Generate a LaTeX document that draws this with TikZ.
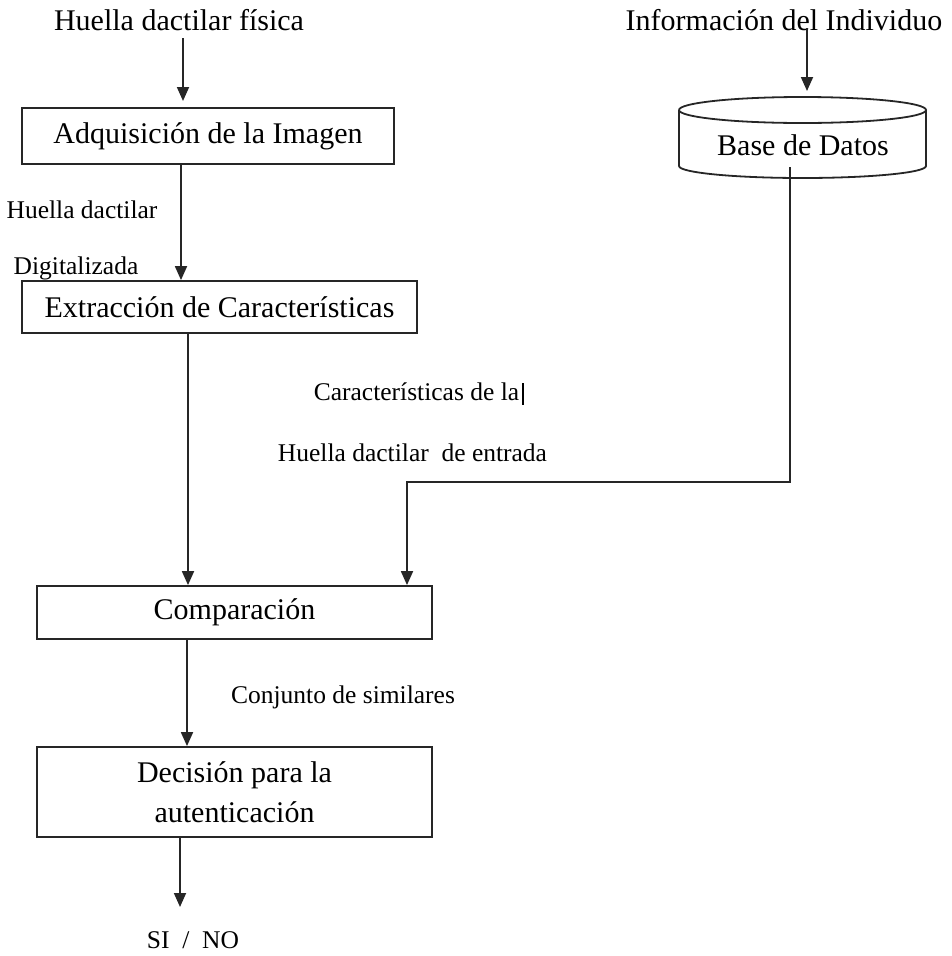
\documentclass[tikz,border=0pt]{standalone}
\usepackage{fontspec}
\setmainfont{Liberation Serif}
\usetikzlibrary{arrows.meta}
\begin{document}
\begin{tikzpicture}[x=1pt,y=-1pt,
  line width=1.8pt, draw={black!85},
  big/.style={font=\fontsize{30}{40}\selectfont, inner sep=0pt},
  small/.style={font=\fontsize{25.5}{30}\selectfont, inner sep=0pt},
  procbox/.style={draw, rectangle, inner sep=0pt, font=\fontsize{30}{40}\selectfont, align=center},
  arr/.style={-{Triangle[width=12pt,length=14pt]}},
  conn/.style={line width=1.8pt}
]
\useasboundingbox (0,0) rectangle (951,956);

% labels at top
\node[big] (fis) at (179,20) {Huella dactilar física};
\node[big] (info) at (784,20) {Información del Individuo};

% process boxes
\node[procbox, minimum width=372pt, minimum height=56pt] (adq) at (208,136) {Adquisición de la Imagen};
\node[procbox, minimum width=395pt, minimum height=52pt] (ext) at (219.5,307) {Extracción de Características};
\node[procbox, minimum width=395pt, minimum height=53pt] (comp) at (234.5,612.5) {Comparación};
\node[procbox, minimum width=395pt, minimum height=90pt] (dec) at (234.5,792) {Decisión para la\\autenticación};

% database cylinder
\coordinate (dbl) at (679,110);
\coordinate (dbr) at (926,110);
\draw (679,110) arc[start angle=180, end angle=540, x radius=123.5pt, y radius=13pt];
\draw (679,110) -- (679,166) arc[start angle=180, end angle=360, x radius=123.5pt, y radius=12pt] -- (926,110);
\node[big] (db) at (803,145) {Base de Datos};

% small labels
\node[small] (hd) at (82,210) {Huella dactilar};
\node[small] (dig) at (76,268) {Digitalizada};
\node[small] (car) at (416.5,392) {Características de la};
\draw[line width=2pt, black] (523,383) -- (523,405);
\node[small] (hde) at (412.5,453) {Huella dactilar \ de entrada};
\node[small] (conj) at (343,697) {Conjunto de similares};
\node[small] (sino) at (193,940) {SI \ / \ NO};

% connector columns
\coordinate (c1) at (183,0);
\coordinate (c2) at (181,0);
\coordinate (c3) at (188,0);
\coordinate (c4) at (407,0);
\coordinate (c5) at (187,0);
\coordinate (c6) at (180,0);
\coordinate (c7) at (807,0);
\coordinate (c8) at (790,0);

\coordinate (fisend) at (183,38);
\coordinate (infostart) at (807,28);
\coordinate (infoend) at (807,91);
\coordinate (dbstart) at (790,167);
\coordinate (bend) at (790,482);
\coordinate (bend2) at (407,482);
\coordinate (outend) at (180,907);
\coordinate (fistip) at (183,101);

% connectors
\draw[arr] (fisend) -- (fistip);
\draw[arr] (infostart) -- (infoend);
\draw[arr] (adq.south -| c2) -- (ext.north -| c2);
\draw[arr] (ext.south -| c3) -- (comp.north -| c3);
\draw[arr] (dbstart) -- (bend) -- (bend2) -- (comp.north -| c4);
\draw[arr] (comp.south -| c5) -- (dec.north -| c5);
\draw[arr] (dec.south -| c6) -- (outend);
\end{tikzpicture}
\end{document}
